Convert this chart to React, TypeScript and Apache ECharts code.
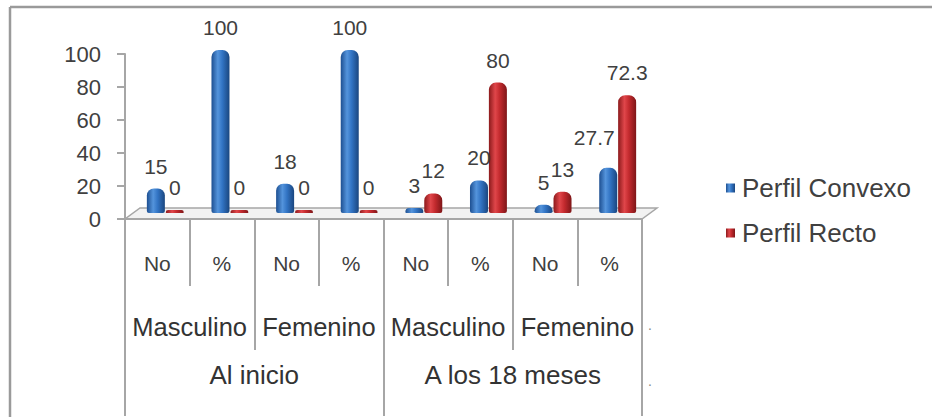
import React, { useEffect, useRef } from "react";
import * as echarts from "echarts";

const level1 = ["No", "%", "No", "%", "No", "%", "No", "%"];
const level2 = ["Masculino", "Femenino", "Masculino", "Femenino"];
const level3 = ["Al inicio", "A los 18 meses"];
const seriesNames = ["Perfil Convexo", "Perfil Recto"];
const convexo = [15, 100, 18, 100, 3, 20, 5, 27.7];
const recto = [0, 0, 0, 0, 12, 80, 13, 72.3];
const yTicks = { min: 0, max: 100, interval: 20 };

const FONT = "'Liberation Sans', Arial, sans-serif";
const AXIS_GRAY = "#a6a6a6";
const TEXT = "#404040";

export default function App() {
  const ref = useRef<HTMLDivElement>(null);
  useEffect(() => {
    if (!ref.current) return;
    const chart = echarts.init(ref.current, null, { renderer: "svg" });
    const blue = new echarts.graphic.LinearGradient(0, 0, 1, 0, [
      { offset: 0, color: "#1d4f91" },
      { offset: 0.35, color: "#5494dc" },
      { offset: 0.6, color: "#3274c4" },
      { offset: 1, color: "#1a467f" },
    ]);
    const red = new echarts.graphic.LinearGradient(0, 0, 1, 0, [
      { offset: 0, color: "#8c1a1c" },
      { offset: 0.35, color: "#e0464a" },
      { offset: 0.6, color: "#c32a2e" },
      { offset: 1, color: "#7e1618" },
    ]);
    const labelBase = {
      show: true,
      position: "top" as const,
      distance: 12,
      fontFamily: FONT,
      fontSize: 21,
      color: TEXT,
    };
    const xBase = {
      type: "category" as const,
      gridIndex: 1,
      position: "bottom" as const,
      boundaryGap: true,
      axisLine: { show: false },
      splitLine: { show: false },
    };
    chart.setOption({
      animation: false,
      backgroundColor: "#ffffff",
      legend: {
        data: seriesNames,
        orient: "vertical",
        left: 726,
        top: 175,
        padding: 0,
        itemWidth: 9,
        itemHeight: 9,
        itemGap: 19,
        itemStyle: { borderWidth: 0 },
        icon: "rect",
        textStyle: { fontFamily: FONT, fontSize: 26, color: TEXT, padding: [0, 0, 0, 2] },
      },
      grid: [
        { left: 133, width: 517, top: 50, height: 163 },
        { left: 125, width: 517, top: 54, height: 165 },
      ],
      graphic: [
        {
          type: "line",
          shape: { x1: 10, y1: 7, x2: 932, y2: 7 },
          style: { stroke: "#9a9a9a", lineWidth: 2.5 },
        },
        {
          type: "line",
          shape: { x1: 10, y1: 7, x2: 10, y2: 417 },
          style: { stroke: "#9a9a9a", lineWidth: 2.5 },
        },
        {
          type: "polygon",
          z: 0,
          shape: {
            points: [
              [125, 219],
              [642, 219],
              [657, 208],
              [140, 208],
            ],
          },
          style: { fill: "#f2f2f2", stroke: AXIS_GRAY, lineWidth: 1.5 },
        },
        {
          type: "text",
          x: 648,
          y: 318,
          style: { text: ".", fontSize: 14, fill: "#888", fontFamily: FONT },
        },
        {
          type: "text",
          x: 648,
          y: 374,
          style: { text: ".", fontSize: 14, fill: "#888", fontFamily: FONT },
        },
      ],
      xAxis: [
        {
          ...xBase,
          data: level1,
          axisLine: { show: true, lineStyle: { color: AXIS_GRAY, width: 2 } },
          axisTick: { show: true, length: 67, lineStyle: { color: AXIS_GRAY, width: 2 } },
          axisLabel: { margin: 34, fontFamily: FONT, fontSize: 21, color: TEXT, interval: 0 },
        },
        {
          ...xBase,
          data: level2,
          axisTick: { show: true, length: 131, lineStyle: { color: AXIS_GRAY, width: 2 } },
          axisLabel: { margin: 95, fontFamily: FONT, fontSize: 25.5, color: "#333", interval: 0 },
        },
        {
          ...xBase,
          data: level3,
          axisTick: { show: true, length: 197, lineStyle: { color: AXIS_GRAY, width: 2 } },
          axisLabel: { margin: 143, fontFamily: FONT, fontSize: 26, color: "#333", interval: 0 },
        },
        {
          type: "category",
          gridIndex: 0,
          data: level1,
          show: false,
        },
      ],
      yAxis: [
        {
          type: "value",
          gridIndex: 0,
          min: yTicks.min,
          max: yTicks.max,
          interval: yTicks.interval,
          show: false,
        },
        {
          type: "value",
          gridIndex: 1,
          min: yTicks.min,
          max: yTicks.max,
          interval: yTicks.interval,
          axisLine: { show: true, lineStyle: { color: AXIS_GRAY, width: 2 } },
          axisTick: { show: true, length: 8, lineStyle: { color: AXIS_GRAY, width: 2 } },
          splitLine: { show: false },
          axisLabel: { margin: 24, fontFamily: FONT, fontSize: 22, color: TEXT },
        },
      ],
      series: [
        {
          name: seriesNames[0],
          type: "bar",
          xAxisIndex: 3,
          yAxisIndex: 0,
          data: convexo.map((v, i) =>
            i === 7 ? { value: v, label: { offset: [-14, -8] } } : v
          ),
          barWidth: 18,
          barGap: "5%",
          barMinHeight: 3,
          itemStyle: { color: blue, borderRadius: [7, 7, 2, 2] },
          label: labelBase,
        },
        {
          name: seriesNames[1],
          type: "bar",
          xAxisIndex: 3,
          yAxisIndex: 0,
          data: recto,
          barWidth: 18,
          barGap: "5%",
          barMinHeight: 3,
          itemStyle: { color: red, borderRadius: [7, 7, 2, 2] },
          label: labelBase,
        },
      ],
    });
    return () => chart.dispose();
  }, []);
  return (
    <div
      ref={ref}
      style={{ position: "fixed", left: 0, top: 0, width: 932, height: 417 }}
    />
  );
}
